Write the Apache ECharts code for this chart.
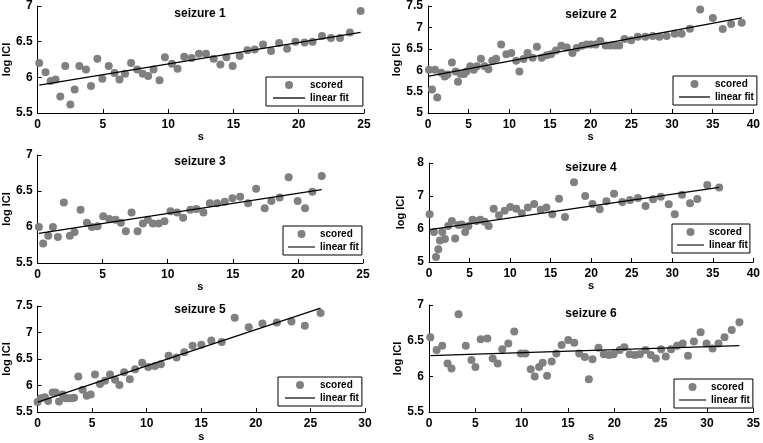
<!DOCTYPE html>
<html>
<head>
<meta charset="utf-8">
<script src="https://cdn.jsdelivr.net/npm/echarts@6/dist/echarts.min.js"></script>
<style>
html,body{margin:0;padding:0;background:#fff;}
#chart{width:763px;height:443px;}
</style>
</head>
<body>
<div id="chart"></div>
<script>
// ---------- DATA ----------
const titles = ['seizure 1','seizure 2','seizure 3','seizure 4','seizure 5','seizure 6'];
const seriesNames = ['scored','linear fit'];
const xName = 's';
const yName = 'log ICI';

const s1x = [0.13,0.61,1.0,1.38,1.74,2.12,2.51,2.84,3.2,3.71,4.09,4.58,4.96,5.45,5.89,6.27,6.7,7.16,7.63,8.06,8.47,8.88,9.34,9.75,10.29,10.72,11.23,11.8,12.36,12.9,13.49,14.0,14.46,14.94,15.48,16.07,16.63,17.27,17.88,18.5,19.11,19.75,20.45,21.06,21.78,22.47,23.16,23.92,24.74];
const s1y = [6.20,6.07,5.95,5.97,5.73,6.16,5.62,5.83,6.16,6.11,5.88,6.26,5.98,6.16,6.06,5.97,6.05,6.20,6.11,6.05,6.02,6.11,5.96,6.28,6.19,6.12,6.29,6.27,6.33,6.33,6.26,6.18,6.28,6.16,6.30,6.38,6.39,6.46,6.37,6.48,6.40,6.50,6.49,6.50,6.58,6.55,6.55,6.63,6.93];
const f1x = [0.13, 24.74];
const f1y = [5.89, 6.63];

const s2x = [0.12,0.49,0.86,1.14,1.65,2.06,2.4,2.94,3.4,3.69,4.02,4.43,4.73,5.2,5.63,6.02,6.51,6.96,7.43,7.9,8.37,9.0,9.63,10.24,10.84,11.24,11.74,12.24,12.86,13.39,13.98,14.59,15.12,15.73,16.39,17.06,17.76,18.29,18.94,19.49,20.02,20.61,21.18,21.84,22.41,22.98,23.51,24.16,24.98,25.8,26.73,27.63,28.45,29.35,30.33,31.18,32.2,33.47,35.02,36.24,37.27,38.57];
const s2y = [6.01,5.55,6.01,5.36,5.94,5.85,5.90,6.18,5.97,5.73,5.91,5.91,5.97,6.09,6.01,6.09,6.27,6.09,6.02,6.22,6.27,6.60,6.37,6.40,6.22,5.97,6.26,6.40,6.29,6.55,6.29,6.35,6.37,6.46,6.57,6.53,6.40,6.52,6.57,6.60,6.60,6.60,6.68,6.58,6.58,6.58,6.58,6.73,6.70,6.78,6.78,6.80,6.78,6.80,6.85,6.85,6.97,7.42,7.22,6.96,7.08,7.11];
const f2x = [0.12, 38.57];
const f2y = [5.86, 7.22];

const s3x = [0.1,0.43,0.82,1.18,1.56,2.02,2.48,2.84,3.3,3.79,4.17,4.61,5.04,5.5,5.99,6.4,6.78,7.22,7.68,8.09,8.47,8.85,9.31,9.75,10.21,10.72,11.18,11.74,12.21,12.74,13.23,13.79,14.38,14.97,15.56,16.17,16.79,17.45,17.96,18.6,19.29,19.98,20.55,21.11,21.83];
const s3y = [6.00,5.77,5.88,6.00,5.86,6.34,5.88,5.93,6.24,6.06,6.00,6.01,6.15,6.11,6.10,6.06,5.94,6.20,5.94,6.05,6.10,6.05,6.05,6.08,6.22,6.20,6.13,6.24,6.25,6.20,6.33,6.33,6.35,6.40,6.42,6.33,6.53,6.26,6.36,6.41,6.69,6.36,6.26,6.49,6.71];
const f3x = [0.1, 21.83];
const f3y = [5.91, 6.52];

const s4x = [0.08,0.61,0.86,1.15,1.35,1.64,1.96,2.37,2.82,3.23,3.64,4.05,4.46,4.87,5.36,5.85,6.34,6.87,7.36,7.98,8.63,9.33,10.02,10.76,11.45,12.19,12.97,13.78,14.48,15.21,16.04,16.77,17.88,19.26,20.16,21.06,21.88,22.82,23.84,24.79,25.77,26.71,27.64,28.59,29.57,30.31,31.2,32.19,33.09,34.32,35.79];
const s4y = [6.45,5.91,5.15,5.39,5.65,5.91,5.70,6.09,6.24,5.71,6.12,6.14,5.91,6.09,6.28,6.24,6.28,6.22,6.09,6.61,6.42,6.55,6.67,6.61,6.48,6.65,6.76,6.58,6.65,6.45,6.92,6.36,7.42,7.00,6.76,6.60,6.84,7.07,6.82,6.88,6.94,6.70,6.90,6.98,6.75,6.45,7.04,6.78,6.91,7.33,7.26];
const f4x = [0.08, 35.79];
const f4y = [5.98, 7.26];

const s5x = [0.0,0.3,0.67,0.97,1.38,1.65,1.96,2.3,2.57,2.85,3.12,3.34,3.73,4.13,4.5,4.87,5.26,5.72,6.18,6.64,7.1,7.5,7.93,8.45,8.94,9.58,10.14,10.75,11.3,12.0,12.73,13.44,14.2,15.0,15.92,16.87,18.06,19.35,20.6,21.92,23.26,24.49,25.93];
const s5y = [5.69,5.76,5.78,5.71,5.87,5.87,5.70,5.83,5.76,5.76,5.76,5.77,6.17,5.92,5.81,5.83,6.21,6.03,6.09,6.21,6.11,6.01,6.25,6.12,6.31,6.43,6.35,6.37,6.40,6.56,6.53,6.63,6.75,6.77,6.85,6.82,7.28,7.10,7.17,7.19,7.21,7.13,7.37];
const f5x = [0.0, 25.93];
const f5y = [5.69, 7.46];

const s6x = [0.14,0.82,1.43,2.0,2.43,3.19,3.97,4.58,5.01,5.58,6.30,6.87,7.41,7.91,8.56,9.2,9.91,10.41,10.98,11.41,11.88,12.27,12.74,13.24,13.74,14.31,15.03,15.68,16.21,16.82,17.25,17.64,18.29,18.86,19.43,19.93,20.58,21.08,21.65,22.22,22.76,23.37,23.94,24.48,25.05,25.55,26.12,26.77,27.38,27.95,28.59,29.31,29.95,30.6,31.24,31.89,32.67,33.5];
const s6y = [6.55,6.37,6.43,6.18,6.11,6.87,6.43,6.23,6.13,6.52,6.53,6.25,6.18,6.38,6.46,6.63,6.32,6.32,6.10,6.00,6.13,6.19,6.01,6.21,6.32,6.44,6.51,6.47,6.32,6.27,5.96,6.24,6.40,6.31,6.30,6.31,6.37,6.41,6.31,6.30,6.31,6.37,6.30,6.25,6.38,6.28,6.38,6.43,6.46,6.29,6.49,6.62,6.46,6.39,6.46,6.55,6.65,6.76];
const f6x = [0.14, 33.5];
const f6y = [6.29, 6.43];

// axis ranges / tick steps
const xMax = [25, 40, 25, 40, 30, 35];
const xStep = [5, 5, 5, 5, 5, 5];
const yMin = [5.5, 5, 5.5, 5, 5.5, 5.5];
const yMax = [7, 7.5, 7, 8, 7.5, 7];
const yStep = [0.5, 0.5, 0.5, 1, 0.5, 0.5];

const scatterX = [s1x, s2x, s3x, s4x, s5x, s6x];
const scatterY = [s1y, s2y, s3y, s4y, s5y, s6y];
const fitX = [f1x, f2x, f3x, f4x, f5x, f6x];
const fitY = [f1y, f2y, f3y, f4y, f5y, f6y];

// ---------- LAYOUT ----------
const layout = [
  {grid:{left:37, top:5,   width:327, height:108}, title:{x:200, y:8},   legend:{left:266, top:77,  pad:[3,14,3,7], iw:32}, xGap:15, yGap:24},
  {grid:{left:428,top:6,   width:327, height:107}, title:{x:591, y:9},   legend:{left:673, top:76,  pad:[3,3,3,6],  iw:31}, xGap:18, yGap:23},
  {grid:{left:37, top:155, width:326, height:108}, title:{x:200, y:156}, legend:{left:283, top:226, pad:[3,3,3,5],  iw:27}, xGap:13, yGap:24},
  {grid:{left:429,top:163, width:326, height:99},  title:{x:591, y:162}, legend:{left:672, top:224, pad:[3,2,3,5],  iw:27}, xGap:16, yGap:23},
  {grid:{left:37, top:306, width:328, height:107}, title:{x:200, y:304}, legend:{left:278, top:377, pad:[3,3,3,7],  iw:30}, xGap:18, yGap:24},
  {grid:{left:429,top:305, width:326, height:108}, title:{x:591, y:308}, legend:{left:674, top:379, pad:[3,3,3,5],  iw:27}, xGap:14, yGap:23}
];

const FONT = 'Liberation Sans, Arial, sans-serif';
const GRAY = '#808080';
const LINE_ICON = 'path://M0,0H40V1.6H0Z';

const grids = [], xAxes = [], yAxes = [], series = [], titleOpts = [], legends = [];
for (let i = 0; i < 6; i++) {
  const L = layout[i];
  grids.push(Object.assign({containLabel:false}, L.grid));
  titleOpts.push({
    text: titles[i], left: L.title.x, top: L.title.y, textAlign: 'center', padding: 0,
    textStyle: {fontFamily: FONT, fontWeight: 'bold', fontSize: 12, color: '#000'}
  });
  const axisCommon = {
    axisLine: {show: true, lineStyle: {color: '#000', width: 1}},
    axisTick: {show: true, inside: true, length: 4, lineStyle: {color: '#000'}},
    axisLabel: {fontFamily: FONT, fontWeight: 'bold', fontSize: 12, color: '#000'},
    splitLine: {show: false},
    nameTextStyle: {fontFamily: FONT, fontWeight: 'bold', fontSize: 11, color: '#000'}
  };
  xAxes.push(Object.assign({}, axisCommon, {
    type: 'value', gridIndex: i, min: 0, max: xMax[i], interval: xStep[i],
    name: xName, nameLocation: 'middle', nameGap: L.xGap,
    axisLabel: Object.assign({}, axisCommon.axisLabel, {margin: 6})
  }));
  yAxes.push(Object.assign({}, axisCommon, {
    type: 'value', gridIndex: i, min: yMin[i], max: yMax[i], interval: yStep[i],
    name: yName, nameLocation: 'middle', nameGap: L.yGap,
    axisLabel: Object.assign({}, axisCommon.axisLabel, {margin: 5})
  }));
  series.push({
    name: seriesNames[0], type: 'scatter', xAxisIndex: i, yAxisIndex: i,
    symbol: 'circle', symbolSize: 8,
    itemStyle: {color: GRAY, opacity: 1},
    data: scatterX[i].map((x, k) => [x, scatterY[i][k]]),
    z: 2
  });
  series.push({
    name: seriesNames[1], type: 'line', xAxisIndex: i, yAxisIndex: i,
    symbol: 'none', showSymbol: false,
    lineStyle: {color: '#000', width: 1.3},
    itemStyle: {color: '#000'},
    data: fitX[i].map((x, k) => [x, fitY[i][k]]),
    z: 3
  });
  legends.push({
    data: [
      {name: seriesNames[0], icon: 'circle', itemStyle: {color: GRAY}},
      {name: seriesNames[1], icon: LINE_ICON, itemStyle: {color: '#000', borderWidth: 0}}
    ],
    orient: 'vertical', left: L.legend.left, top: L.legend.top,
    padding: L.legend.pad, itemGap: 3, itemWidth: L.legend.iw, itemHeight: 8,
    borderColor: '#000', borderWidth: 1, borderRadius: 0, backgroundColor: '#fff',
    selectedMode: false,
    textStyle: {fontFamily: FONT, fontWeight: 'bold', fontSize: 10, color: '#000'}
  });
}

const chart = echarts.init(document.getElementById('chart'), null, {renderer: 'canvas'});
chart.setOption({
  animation: false,
  backgroundColor: '#fff',
  title: titleOpts,
  grid: grids,
  xAxis: xAxes,
  yAxis: yAxes,
  legend: legends,
  series: series
});
</script>
</body>
</html>
